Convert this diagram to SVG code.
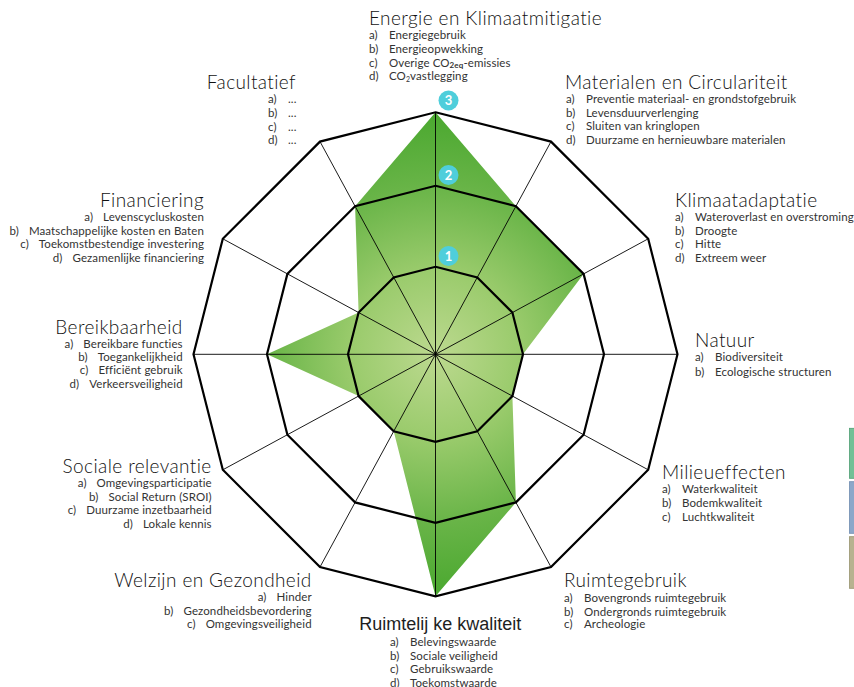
<svg xmlns="http://www.w3.org/2000/svg" width="854" height="687" viewBox="0 0 854 687">
<defs>
<radialGradient id="gr" gradientUnits="userSpaceOnUse" cx="435.5" cy="354.3" r="242">
<stop offset="0" stop-color="#bcd98f"/>
<stop offset="0.35" stop-color="#9acb6c"/>
<stop offset="0.7" stop-color="#68b447"/>
<stop offset="1" stop-color="#4aa82f"/>
</radialGradient>
<style>
.t{font-family:Lato,"Open Sans","DejaVu Sans",sans-serif;font-weight:300;font-size:19px;letter-spacing:0.4px;fill:#111}
.i{font-family:Lato,"Open Sans","DejaVu Sans",sans-serif;font-size:11.5px;letter-spacing:0.1px;fill:#333}
.e{text-anchor:end}
.ring{fill:none;stroke:#000;stroke-width:2.2;stroke-linejoin:miter}
.sp{stroke:#000;stroke-width:0.9}
.mk{fill:#4fcedb}
.mn{font-family:Lato,"DejaVu Sans",sans-serif;font-weight:bold;font-size:13px;fill:#fff;text-anchor:middle}
</style>
</defs>
<rect width="854" height="687" fill="#fff"/>

<g id="chart">
<polygon fill="url(#gr)" points="435.5,112.3 515.9,206.2 583.6,273.9 523.0,354.3 512.4,396.1 515.9,502.4 435.5,596.3 393.7,431.2 358.6,396.1 267.0,354.3 358.6,312.5 355.1,206.2"/>
<g id="connectors">
<line class="sp" x1="435.5" y1="354.3" x2="435.5" y2="112.3"/>
<line class="sp" x1="435.5" y1="354.3" x2="551.0" y2="141.6"/>
<line class="sp" x1="435.5" y1="354.3" x2="648.2" y2="238.8"/>
<line class="sp" x1="435.5" y1="354.3" x2="677.5" y2="354.3"/>
<line class="sp" x1="435.5" y1="354.3" x2="648.2" y2="469.8"/>
<line class="sp" x1="435.5" y1="354.3" x2="551.0" y2="567.0"/>
<line class="sp" x1="435.5" y1="354.3" x2="435.5" y2="596.3"/>
<line class="sp" x1="435.5" y1="354.3" x2="320.0" y2="567.0"/>
<line class="sp" x1="435.5" y1="354.3" x2="222.8" y2="469.8"/>
<line class="sp" x1="435.5" y1="354.3" x2="193.5" y2="354.3"/>
<line class="sp" x1="435.5" y1="354.3" x2="222.8" y2="238.8"/>
<line class="sp" x1="435.5" y1="354.3" x2="320.0" y2="141.6"/>
</g>
<polygon class="ring" points="435.5,112.3 551.0,141.6 648.2,238.8 677.5,354.3 648.2,469.8 551.0,567.0 435.5,596.3 320.0,567.0 222.8,469.8 193.5,354.3 222.8,238.8 320.0,141.6"/>
<polygon class="ring" points="435.5,185.8 515.9,206.2 583.6,273.9 604.0,354.3 583.6,434.7 515.9,502.4 435.5,522.8 355.1,502.4 287.4,434.7 267.0,354.3 287.4,273.9 355.1,206.2"/>
<polygon class="ring" points="435.5,266.8 477.3,277.4 512.4,312.5 523.0,354.3 512.4,396.1 477.3,431.2 435.5,441.8 393.7,431.2 358.6,396.1 348.0,354.3 358.6,312.5 393.7,277.4"/>
<g id="level3"><circle class="mk" cx="448.5" cy="100.5" r="10"/><text class="mn" x="448.5" y="105.3">3</text></g>
<g id="level2"><circle class="mk" cx="448.5" cy="175" r="10"/><text class="mn" x="448.5" y="179.8">2</text></g>
<g id="level1"><circle class="mk" cx="448.5" cy="256" r="10"/><text class="mn" x="448.5" y="260.8">1</text></g>
</g>

<g id="energie">
<text class="t" x="369" y="25">Energie en Klimaatmitigatie</text>
<text class="i" x="369" y="39">a)</text><text class="i" x="389" y="39">Energiegebruik</text>
<text class="i" x="369" y="53">b)</text><text class="i" x="389" y="53">Energieopwekking</text>
<text class="i" x="369" y="66.5">c)</text><text class="i" x="389" y="66.5">Overige CO<tspan font-size="8" font-weight="bold" dy="1.8">2eq</tspan><tspan dy="-1.8">-emissies</tspan></text>
<text class="i" x="369" y="80">d)</text><text class="i" x="389" y="80">CO<tspan font-size="7" dy="1.8">2</tspan><tspan dy="-1.8">vastlegging</tspan></text>
</g>

<g id="facultatief">
<text class="t e" x="296" y="89.3">Facultatief</text>
<text class="i" x="268" y="103">a)</text><text class="i" x="288" y="103">...</text>
<text class="i" x="268" y="117">b)</text><text class="i" x="288" y="117">...</text>
<text class="i" x="268" y="130.5">c)</text><text class="i" x="288" y="130.5">...</text>
<text class="i" x="268" y="144">d)</text><text class="i" x="288" y="144">...</text>
</g>

<g id="materialen">
<text class="t" x="565" y="89.3">Materialen en Circulariteit</text>
<text class="i" x="566" y="103">a)</text><text class="i" x="586" y="103">Preventie materiaal- en grondstofgebruik</text>
<text class="i" x="566" y="116.5">b)</text><text class="i" x="586" y="116.5">Levensduurverlenging</text>
<text class="i" x="566" y="130">c)</text><text class="i" x="586" y="130">Sluiten van kringlopen</text>
<text class="i" x="566" y="144">d)</text><text class="i" x="586" y="144">Duurzame en hernieuwbare materialen</text>
</g>

<g id="klimaatadaptatie">
<text class="t" x="675" y="206.7">Klimaatadaptatie</text>
<text class="i" x="675" y="220.5">a)</text><text class="i" x="695" y="220.5">Wateroverlast en overstroming</text>
<text class="i" x="675" y="234.5">b)</text><text class="i" x="695" y="234.5">Droogte</text>
<text class="i" x="675" y="248">c)</text><text class="i" x="695" y="248">Hitte</text>
<text class="i" x="675" y="261.5">d)</text><text class="i" x="695" y="261.5">Extreem weer</text>
</g>

<g id="natuur">
<text class="t" x="695" y="346.7">Natuur</text>
<text class="i" x="695" y="361">a)</text><text class="i" x="715" y="361">Biodiversiteit</text>
<text class="i" x="695" y="375.5">b)</text><text class="i" x="715" y="375.5">Ecologische structuren</text>
</g>

<g id="milieueffecten">
<text class="t" x="662" y="479.3">Milieueffecten</text>
<text class="i" x="662" y="493">a)</text><text class="i" x="682" y="493">Waterkwaliteit</text>
<text class="i" x="662" y="507">b)</text><text class="i" x="682" y="507">Bodemkwaliteit</text>
<text class="i" x="662" y="520.5">c)</text><text class="i" x="682" y="520.5">Luchtkwaliteit</text>
</g>

<g id="ruimtegebruik">
<text class="t" x="564" y="586.7">Ruimtegebruik</text>
<text class="i" x="564" y="601.5">a)</text><text class="i" x="584" y="601.5">Bovengronds ruimtegebruik</text>
<text class="i" x="564" y="615.5">b)</text><text class="i" x="584" y="615.5">Ondergronds ruimtegebruik</text>
<text class="i" x="564" y="628">c)</text><text class="i" x="584" y="628">Archeologie</text>
</g>

<g id="ruimtelijke-kwaliteit">
<text x="359.3" y="630" font-family="'Liberation Sans',Arial,sans-serif" font-size="18" fill="#1e1e1e">Ruimtelij ke kwaliteit</text>
<text class="i" x="390" y="645.5">a)</text><text class="i" x="410" y="645.5">Belevingswaarde</text>
<text class="i" x="390" y="659.5">b)</text><text class="i" x="410" y="659.5">Sociale veiligheid</text>
<text class="i" x="390" y="673">c)</text><text class="i" x="410" y="673">Gebruikswaarde</text>
<text class="i" x="390" y="686.5">d)</text><text class="i" x="410" y="686.5">Toekomstwaarde</text>
</g>

<g id="welzijn">
<text class="t e" x="311.7" y="587">Welzijn en Gezondheid</text>
<text class="i e" x="311.7" y="601">a)<tspan dx="10">Hinder</tspan></text>
<text class="i e" x="311.7" y="614.5">b)<tspan dx="10">Gezondheidsbevordering</tspan></text>
<text class="i e" x="311.7" y="628">c)<tspan dx="10">Omgevingsveiligheid</tspan></text>
</g>

<g id="sociale-relevantie">
<text class="t e" x="211.7" y="473.3">Sociale relevantie</text>
<text class="i e" x="211.7" y="487">a)<tspan dx="10">Omgevingsparticipatie</tspan></text>
<text class="i e" x="211.7" y="500.5">b)<tspan dx="10">Social Return (SROI)</tspan></text>
<text class="i e" x="211.7" y="514">c)<tspan dx="10">Duurzame inzetbaarheid</tspan></text>
<text class="i e" x="211.7" y="527.5">d)<tspan dx="10">Lokale kennis</tspan></text>
</g>

<g id="bereikbaarheid">
<text class="t e" x="182.7" y="334">Bereikbaarheid</text>
<text class="i e" x="182.7" y="348">a)<tspan dx="10">Bereikbare functies</tspan></text>
<text class="i e" x="182.7" y="361">b)<tspan dx="10">Toegankelijkheid</tspan></text>
<text class="i e" x="182.7" y="374">c)<tspan dx="10">Efficiënt gebruik</tspan></text>
<text class="i e" x="182.7" y="387.5">d)<tspan dx="10">Verkeersveiligheid</tspan></text>
</g>

<g id="financiering">
<text class="t e" x="204" y="206.7">Financiering</text>
<text class="i e" x="204" y="221">a)<tspan dx="10">Levenscycluskosten</tspan></text>
<text class="i e" x="204" y="234.5">b)<tspan dx="10">Maatschappelijke kosten en Baten</tspan></text>
<text class="i e" x="204" y="248">c)<tspan dx="10">Toekomstbestendige investering</tspan></text>
<text class="i e" x="204" y="261.5">d)<tspan dx="10">Gezamenlijke financiering</tspan></text>
</g>

<g id="side-bars">
<rect x="849.5" y="428.3" width="5" height="50" fill="#72c096" stroke="#4f9f73" stroke-width="0.8"/>
<rect x="849.5" y="481.7" width="5" height="51.6" fill="#8ca7c9" stroke="#6f8cb0" stroke-width="0.8"/>
<rect x="849.5" y="536.7" width="5" height="51.6" fill="#b7b290" stroke="#98936f" stroke-width="0.8"/>
</g>
</svg>
